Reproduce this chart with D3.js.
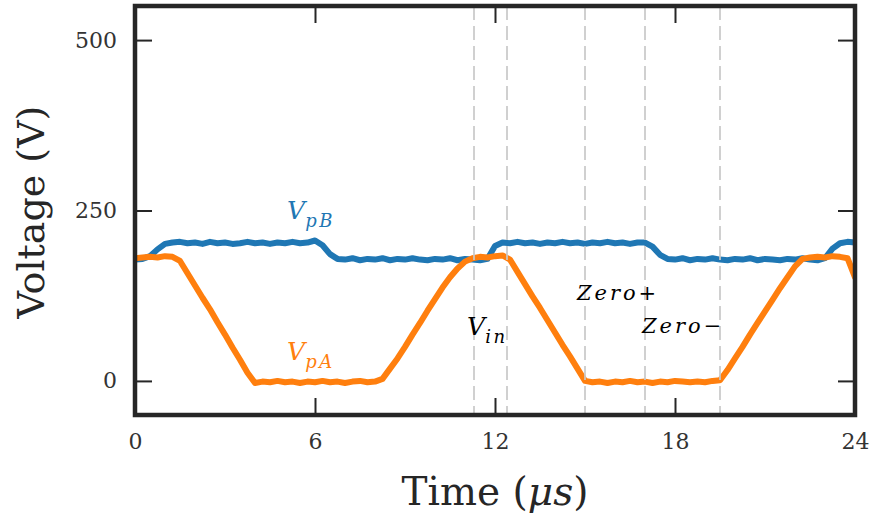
<!DOCTYPE html>
<html>
<head>
<meta charset="utf-8">
<script src="https://cdnjs.cloudflare.com/ajax/libs/d3/7.8.5/d3.min.js"></script>
<style>
  body { margin: 0; background: #fff; }
  .axis text { font-family: "DejaVu Serif", serif; font-size: 22px; fill: #333; }
  .axis line { stroke: #262626; stroke-width: 2; }
  .axis path { display: none; }
</style>
</head>
<body>
<div id="chart"></div>
<script>
// sample times (us)
var timeUs = [0, 0.25, 0.5, 0.75, 1, 1.25, 1.5, 1.75, 2, 2.25, 2.5, 2.75, 3, 3.25, 3.5, 3.75,
  4, 4.25, 4.5, 4.75, 5, 5.25, 5.5, 5.75, 6, 6.25, 6.5, 6.75, 7, 7.25, 7.5, 7.75,
  8, 8.25, 8.5, 8.75, 9, 9.25, 9.5, 9.75, 10, 10.25, 10.5, 10.75, 11, 11.25, 11.5, 11.75,
  12, 12.25, 12.5, 12.75, 13, 13.25, 13.5, 13.75, 14, 14.25, 14.5, 14.75, 15, 15.25, 15.5, 15.75,
  16, 16.25, 16.5, 16.75, 17, 17.25, 17.5, 17.75, 18, 18.25, 18.5, 18.75, 19, 19.25, 19.5, 19.75,
  20, 20.25, 20.5, 20.75, 21, 21.25, 21.5, 21.75, 22, 22.25, 22.5, 22.75, 23, 23.25, 23.5, 23.75, 24];

// V_pA (orange)
var vpA = [180, 181, 182, 181, 183, 182, 176, 158, 140, 122, 105, 86, 68, 49, 31, 12,
  -3, -1, -2, 0, -2, -1, -3, -1, -2, 0, -2, -1, -3, -1, 0, -2,
  -1, 3, 18, 33, 50, 68, 85, 103, 120, 137, 152, 165, 175, 180, 182, 181,
  183, 184, 178, 160, 142, 124, 107, 89, 71, 53, 36, 18, 0, -2, -1, -3,
  -1, -2, 0, -2, -1, -3, -1, -2, 0, -1, -2, -1, -2, 0, 1, 16,
  33, 50, 68, 85, 102, 119, 136, 152, 168, 179, 181, 182, 181, 183, 182, 180, 152];

// V_pB (blue)
var vpB = [178, 179, 183, 193, 201, 203, 204, 202, 203, 201, 204, 202, 203, 201, 202, 204,
  202, 203, 201, 203, 202, 204, 202, 203, 206, 199, 186, 179, 178, 180, 177, 179,
  178, 180, 177, 179, 178, 180, 178, 177, 179, 178, 180, 177, 179, 178, 177, 179,
  198, 203, 202, 204, 202, 203, 201, 203, 202, 204, 202, 203, 201, 203, 202, 204,
  202, 203, 201, 203, 203, 197, 185, 179, 178, 180, 177, 179, 178, 180, 178, 177,
  179, 178, 180, 177, 179, 178, 177, 179, 178, 180, 178, 177, 180, 194, 202, 204, 203];

var xTicks = [0, 6, 12, 18, 24];
var yTicks = [0, 250, 500];
var markerTimes = [11.3, 12.4, 15.0, 17.0, 19.5];

var width = 875, height = 523;
var plot = {left: 135, right: 855, top: 6, bottom: 415};

var svg = d3.select("#chart").append("svg")
  .attr("width", width)
  .attr("height", height);

var x = d3.scaleLinear().domain([0, 24]).range([plot.left, plot.right]);
var y = d3.scaleLinear().domain([-50, 550]).range([plot.bottom, plot.top]);

svg.append("clipPath").attr("id", "clip")
  .append("rect")
  .attr("x", plot.left).attr("y", plot.top)
  .attr("width", plot.right - plot.left).attr("height", plot.bottom - plot.top);

var series = [
  {name: "B", values: vpB, color: "#1f77b4"},
  {name: "A", values: vpA, color: "#ff7f0e"}
];

var line = d3.line()
  .x(function (d) { return x(d[0]); })
  .y(function (d) { return y(d[1]); });

var lineG = svg.append("g").attr("clip-path", "url(#clip)");
lineG.selectAll("path")
  .data(series)
  .enter()
  .append("path")
  .attr("d", function (s) {
    return line(timeUs.map(function (t, i) { return [t, s.values[i]]; }));
  })
  .attr("fill", "none")
  .attr("stroke", function (s) { return s.color; })
  .attr("stroke-width", 6)
  .attr("stroke-linejoin", "round")
  .attr("stroke-linecap", "round");

// dashed markers
svg.append("g").selectAll("line")
  .data(markerTimes)
  .enter()
  .append("line")
  .attr("x1", function (d) { return x(d); })
  .attr("x2", function (d) { return x(d); })
  .attr("y1", plot.top)
  .attr("y2", plot.bottom)
  .attr("stroke", "#c8c8c8")
  .attr("stroke-opacity", 0.85)
  .attr("stroke-width", 2)
  .attr("stroke-dasharray", "14,6");

// axes (ticks inward)
svg.append("g").attr("class", "axis")
  .attr("transform", "translate(0," + plot.bottom + ")")
  .call(d3.axisBottom(x).tickValues(xTicks).tickSize(-17).tickPadding(18));

svg.append("g").attr("class", "axis")
  .attr("transform", "translate(0," + plot.top + ")")
  .call(d3.axisTop(x).tickValues(xTicks).tickSize(-17).tickFormat(""));

svg.append("g").attr("class", "axis")
  .attr("transform", "translate(" + plot.left + ",0)")
  .call(d3.axisLeft(y).tickValues(yTicks).tickSize(-17).tickPadding(18));

svg.append("g").attr("class", "axis")
  .attr("transform", "translate(" + plot.right + ",0)")
  .call(d3.axisRight(y).tickValues(yTicks).tickSize(-17).tickFormat(""));

// frame
svg.append("rect")
  .attr("x", plot.left).attr("y", plot.top)
  .attr("width", plot.right - plot.left).attr("height", plot.bottom - plot.top)
  .attr("fill", "none")
  .attr("stroke", "#262626")
  .attr("stroke-width", 4.5);

// axis titles
var xTitle = svg.append("text")
  .attr("x", 495).attr("y", 505)
  .attr("text-anchor", "middle")
  .style("font-family", "'DejaVu Serif', serif")
  .style("font-size", "39px")
  .attr("fill", "#262626");
xTitle.append("tspan").text("Time (");
xTitle.append("tspan").style("font-style", "italic").text("\u03bcs");
xTitle.append("tspan").text(")");

svg.append("text")
  .attr("transform", "translate(44,212) rotate(-90)")
  .attr("text-anchor", "middle")
  .style("font-family", "'DejaVu Serif', serif")
  .style("font-size", "38px")
  .attr("fill", "#262626")
  .text("Voltage (V)");

// annotations
var annotations = [
  {main: "V", sub: "pB", t: 5.07, v: 237, color: "#1f77b4"},
  {main: "V", sub: "pA", t: 5.07, v: 31, color: "#ff7f0e"},
  {main: "V", sub: "in", t: 11.07, v: 68, color: "#000"}
];

annotations.forEach(function (a) {
  var txt = svg.append("text")
    .attr("x", x(a.t)).attr("y", y(a.v))
    .style("font-family", "'DejaVu Serif', serif")
    .style("font-style", "italic")
    .attr("fill", a.color);
  txt.append("tspan").style("font-size", "25px").text(a.main);
  txt.append("tspan").style("font-size", "18px").attr("dy", 8)
    .attr("letter-spacing", 2.5).text(a.sub);
});

var zeroLabels = [
  {word: "Zero", sign: "+", t: 14.73, v: 119},
  {word: "Zero", sign: "\u2212", t: 16.9, v: 71}
];

zeroLabels.forEach(function (a) {
  var txt = svg.append("text")
    .attr("x", x(a.t)).attr("y", y(a.v))
    .style("font-family", "'DejaVu Serif', serif")
    .style("font-size", "21px")
    .attr("fill", "#000");
  txt.append("tspan").style("font-style", "italic").attr("letter-spacing", 3).text(a.word);
  txt.append("tspan").text(a.sign);
});
</script>
</body>
</html>
